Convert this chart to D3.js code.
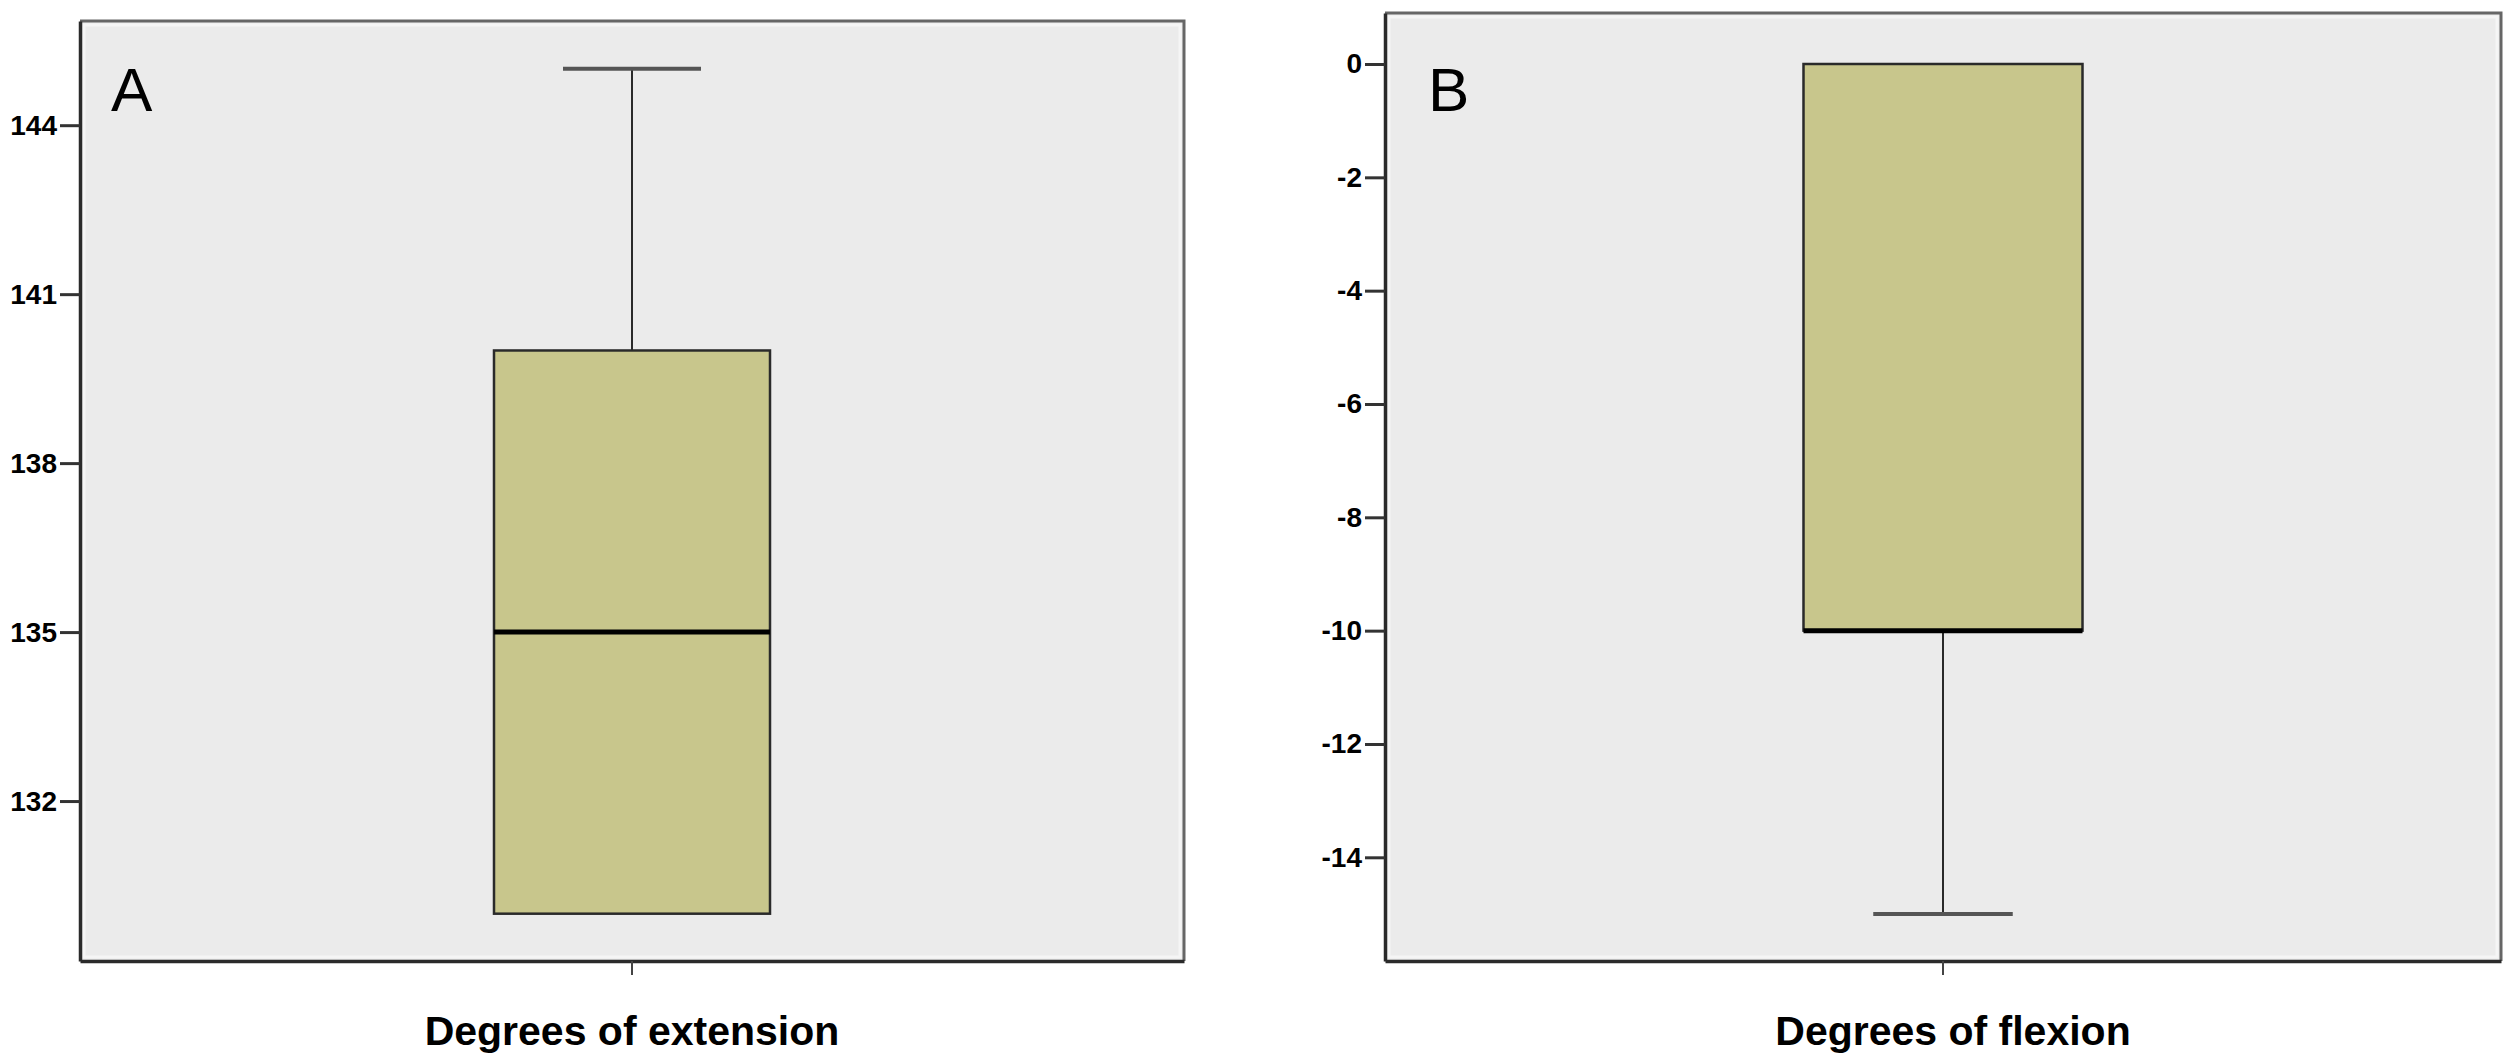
<!DOCTYPE html>
<html>
<head>
<meta charset="utf-8">
<script src="https://cdn.jsdelivr.net/npm/d3@7"></script>
<style>
  html, body { margin: 0; padding: 0; background: #ffffff; }
  svg { display: block; }
</style>
</head>
<body>
<svg id="chart" width="2512" height="1059"></svg>
<script>
// ---- data ----
const panelLetters = ["A", "B"];
const categories = ["Degrees of extension", "Degrees of flexion"];
const minVals = [130, -15];
const q1Vals = [130, -10];
const medianVals = [135, -10];
const q3Vals = [140, 0];
const maxVals = [145, 0];
const tickValuesA = [132, 135, 138, 141, 144];
const tickValuesB = [0, -2, -4, -6, -8, -10, -12, -14];

// ---- layout ----
const layouts = [
  { left: 80, right: 1184, top: 21, bottom: 961, domain: [129.16, 145.85], ticks: tickValuesA, labelShift: 0 },
  { left: 1385, right: 2501, top: 13, bottom: 961, domain: [-15.83, 0.9], ticks: tickValuesB, labelShift: 10 }
];

const svg = d3.select("#chart");
const FONT = "'Liberation Sans', Arial, Helvetica, sans-serif";

layouts.forEach((L, i) => {
  const g = svg.append("g");
  const y = d3.scaleLinear().domain(L.domain).range([L.bottom, L.top]);
  const x = d3.scaleBand().domain([categories[i]]).range([L.left, L.right]).padding(0);
  const cx = x(categories[i]) + x.bandwidth() / 2;
  const boxW = x.bandwidth() * 0.25;
  const capW = boxW / 2;

  // plot background
  g.append("rect")
    .attr("x", L.left).attr("y", L.top)
    .attr("width", L.right - L.left).attr("height", L.bottom - L.top)
    .attr("fill", "#ebebeb");
  g.append("rect")
    .attr("x", L.left + 4).attr("y", L.top + 4)
    .attr("width", L.right - L.left - 8).attr("height", L.bottom - L.top - 8)
    .attr("fill", "none").attr("stroke", "#f5f5f5").attr("stroke-width", 3);

  // top & right border
  g.append("path")
    .attr("d", `M${L.left},${L.top}H${L.right}V${L.bottom}`)
    .attr("fill", "none").attr("stroke", "#666").attr("stroke-width", 3);

  // whiskers
  g.append("line")
    .attr("x1", cx).attr("x2", cx)
    .attr("y1", y(q3Vals[i])).attr("y2", y(maxVals[i]))
    .attr("stroke", "#2a2a2a").attr("stroke-width", 2);
  g.append("line")
    .attr("x1", cx).attr("x2", cx)
    .attr("y1", y(q1Vals[i])).attr("y2", y(minVals[i]))
    .attr("stroke", "#2a2a2a").attr("stroke-width", 2);
  // caps
  if (maxVals[i] !== q3Vals[i]) {
    g.append("line")
      .attr("x1", cx - capW / 2).attr("x2", cx + capW / 2)
      .attr("y1", y(maxVals[i])).attr("y2", y(maxVals[i]))
      .attr("stroke", "#555").attr("stroke-width", 4);
  }
  if (minVals[i] !== q1Vals[i]) {
    g.append("line")
      .attr("x1", cx - capW / 2).attr("x2", cx + capW / 2)
      .attr("y1", y(minVals[i])).attr("y2", y(minVals[i]))
      .attr("stroke", "#555").attr("stroke-width", 4);
  }

  // box
  g.append("rect")
    .attr("x", cx - boxW / 2).attr("y", y(q3Vals[i]))
    .attr("width", boxW).attr("height", y(q1Vals[i]) - y(q3Vals[i]))
    .attr("fill", "#c8c68c").attr("stroke", "#2a2a2a").attr("stroke-width", 2.5);
  // median
  g.append("line")
    .attr("x1", cx - boxW / 2).attr("x2", cx + boxW / 2)
    .attr("y1", y(medianVals[i])).attr("y2", y(medianVals[i]))
    .attr("stroke", "#000").attr("stroke-width", 5);

  // y axis
  const yAxis = g.append("g")
    .attr("transform", `translate(${L.left},0)`)
    .call(d3.axisLeft(y).tickValues(L.ticks).tickSizeInner(20).tickSizeOuter(0).tickPadding(3).tickFormat(d => String(d)));
  yAxis.select(".domain").attr("stroke", "#2a2a2a").attr("stroke-width", 3.5);
  yAxis.selectAll(".tick line").attr("stroke", "#333").attr("stroke-width", 3);
  yAxis.selectAll(".tick text")
    .attr("font-family", FONT).attr("font-size", 28).attr("font-weight", "bold").attr("fill", "#000");

  // x axis
  const xAxis = g.append("g")
    .attr("transform", `translate(0,${L.bottom})`)
    .call(d3.axisBottom(x).tickSizeInner(14).tickSizeOuter(0).tickFormat(""));
  xAxis.select(".domain").attr("stroke", "#2a2a2a").attr("stroke-width", 3.5);
  xAxis.selectAll(".tick line").attr("stroke", "#444").attr("stroke-width", 2);

  // x label
  g.append("text")
    .attr("x", cx + L.labelShift).attr("y", 1045)
    .attr("text-anchor", "middle")
    .attr("font-family", FONT).attr("font-size", 41).attr("font-weight", "bold")
    .attr("fill", "#000")
    .text(categories[i]);

  // panel letter
  g.append("text")
    .attr("x", L.left + (i === 0 ? 31 : 43)).attr("y", 111)
    .attr("font-family", FONT).attr("font-size", 62)
    .attr("fill", "#000")
    .text(panelLetters[i]);
});
</script>
</body>
</html>
